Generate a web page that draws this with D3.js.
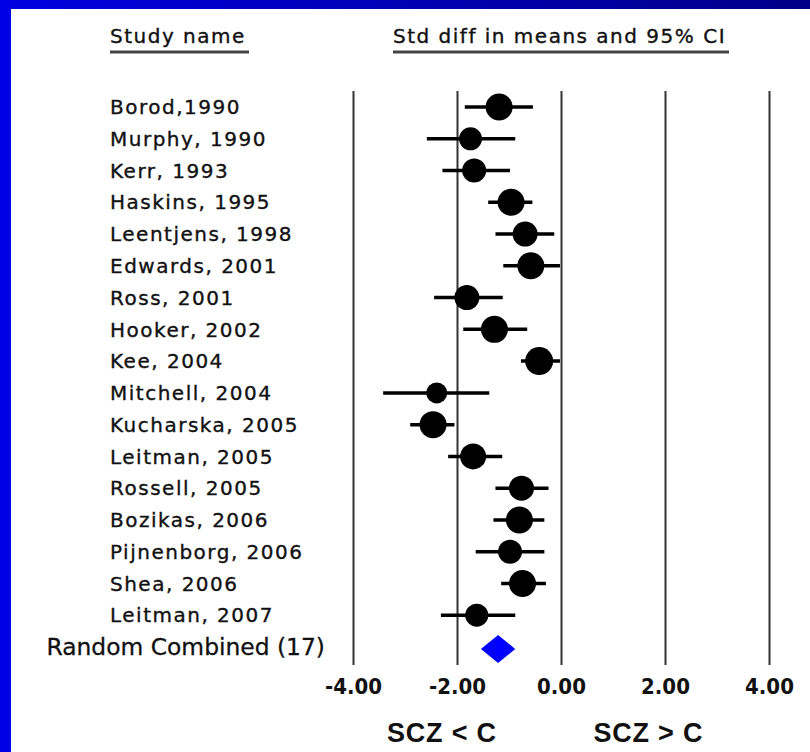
<!DOCTYPE html>
<html>
<meta charset="utf-8">
<head>
<style>
body {
    margin: 0;
    background: #fff;
}
.lbl {
    font-family: "DejaVu Sans", sans-serif;
    font-size: 20px;
    letter-spacing: 1.5px;
    fill: #111;
    stroke: #111;
    stroke-width: 0.35px;
}
.combined {
    font-family: "DejaVu Sans", sans-serif;
    font-size: 23.4px;
    fill: #111;
    stroke: #111;
    stroke-width: 0.3px;
}
.tick text {
    font-family: "DejaVu Sans Condensed", "DejaVu Sans", sans-serif;
    font-stretch: condensed;
    font-weight: bold;
    font-size: 22px;
    fill: #111;
}
.side {
    font-family: "Liberation Sans", Arial, sans-serif;
    font-weight: bold;
    font-size: 27px;
    letter-spacing: 0.8px;
    fill: #111;
}
</style>
<script src="https://d3js.org/d3.v7.min.js"></script>
</head>
<body>
<script type="text/javascript">
var studies = ["Borod,1990", "Murphy, 1990", "Kerr, 1993", "Haskins, 1995", "Leentjens, 1998",
    "Edwards, 2001", "Ross, 2001", "Hooker, 2002", "Kee, 2004", "Mitchell, 2004",
    "Kucharska, 2005", "Leitman, 2005", "Rossell, 2005", "Bozikas, 2006",
    "Pijnenborg, 2006", "Shea, 2006", "Leitman, 2007"];
var effect = [-1.19, -1.74, -1.67, -0.96, -0.69, -0.58, -1.81, -1.28, -0.42, -2.39,
    -2.46, -1.69, -0.76, -0.80, -0.98, -0.74, -1.62];
var lower = [-1.85, -2.58, -2.28, -1.40, -1.26, -1.11, -2.44, -1.88, -0.77, -3.42,
    -2.90, -2.17, -1.26, -1.30, -1.64, -1.15, -2.31];
var upper = [-0.54, -0.88, -0.98, -0.55, -0.13, -0.02, -1.12, -0.65, -0.02, -1.38,
    -2.05, -1.13, -0.24, -0.32, -0.32, -0.29, -0.88];
// relative weight of each study (drives the marker size)
var weight = [13.5, 11.5, 12, 13.5, 12.5, 13.5, 12.5, 13.5, 14, 10.5,
    13.5, 13, 12.5, 13.5, 12, 13.5, 11.5];
var combinedName = "Random Combined (17)";
var combined = {est: -1.21, lo: -1.54, hi: -0.88};
var tickVals = [-4, -2, 0, 2, 4];
var sideLabels = [{text: "SCZ < C", at: -2.29}, {text: "SCZ > C", at: 1.68}];

var W = 810, H = 752;

var svg = d3.select("body").append("svg")
    .attr("width", W)
    .attr("height", H);

// blue frame
var grad = svg.append("defs").append("linearGradient")
    .attr("id", "topband")
    .attr("x1", "0%").attr("x2", "100%");
grad.append("stop").attr("offset", "0%").attr("stop-color", "#0000e0");
grad.append("stop").attr("offset", "100%").attr("stop-color", "#000088");

svg.append("rect").attr("x", 0).attr("y", 0).attr("width", W).attr("height", H).attr("fill", "#fff");
svg.append("rect").attr("x", 0).attr("y", 0).attr("width", W).attr("height", 9).attr("fill", "url(#topband)");
svg.append("rect").attr("x", 0).attr("y", 0).attr("width", 11).attr("height", H).attr("fill", "#0000e6");

var rows = studies.concat([combinedName]);

var x = d3.scaleLinear().domain([-4, 4]).range([353, 769]);
var y = d3.scalePoint().domain(rows).range([107, 647]);

var gridTop = 91, gridBottom = 665;

// vertical reference lines
svg.append("g")
    .attr("transform", "translate(0," + gridBottom + ")")
    .call(d3.axisBottom(x).tickValues(tickVals).tickSize(-(gridBottom - gridTop)).tickFormat(""))
    .call(function(g) {
        g.select(".domain").remove();
        g.selectAll("line").attr("stroke", "#333").attr("stroke-width", 2);
    });

// tick labels
svg.append("g")
    .attr("transform", "translate(0," + gridBottom + ")")
    .call(d3.axisBottom(x).tickValues(tickVals).tickSize(0).tickPadding(13)
        .tickFormat(function(d) { return d.toFixed(2); }))
    .call(function(g) { g.select(".domain").remove(); });

// headers
var headers = [
    {text: "Study name", x: 110, x2: 249},
    {text: "Std diff in means and 95% CI", x: 393, x2: 729}
];
headers.forEach(function(h) {
    svg.append("text").attr("class", "lbl")
        .attr("x", h.x).attr("y", 43)
        .text(h.text);
    svg.append("line")
        .attr("x1", h.x).attr("x2", h.x2)
        .attr("y1", 52).attr("y2", 52)
        .attr("stroke", "#444").attr("stroke-width", 3);
});

// study labels
svg.selectAll(".study")
    .data(studies)
  .enter().append("text")
    .attr("class", "lbl study")
    .attr("x", 110)
    .attr("y", function(d) { return y(d); })
    .attr("dy", "0.36em")
    .text(function(d) { return d; });

svg.append("text")
    .attr("class", "combined")
    .attr("x", 325)
    .attr("y", y(combinedName))
    .attr("dy", "0.36em")
    .attr("text-anchor", "end")
    .text(combinedName);

// confidence intervals
svg.selectAll(".ci")
    .data(studies)
  .enter().append("line")
    .attr("class", "ci")
    .attr("x1", function(d, i) { return x(lower[i]); })
    .attr("x2", function(d, i) { return x(upper[i]); })
    .attr("y1", function(d) { return y(d); })
    .attr("y2", function(d) { return y(d); })
    .attr("stroke", "#000")
    .attr("stroke-width", 3.5);

// point estimates
svg.selectAll(".pt")
    .data(studies)
  .enter().append("circle")
    .attr("class", "pt")
    .attr("cx", function(d, i) { return x(effect[i]); })
    .attr("cy", function(d) { return y(d); })
    .attr("r", function(d, i) { return weight[i]; })
    .attr("fill", "#000");

// combined diamond
var cy = y(combinedName) + 2;
svg.append("path")
    .attr("d", "M" + x(combined.lo) + "," + cy +
        "L" + x(combined.est) + "," + (cy - 14) +
        "L" + x(combined.hi) + "," + cy +
        "L" + x(combined.est) + "," + (cy + 14) + "Z")
    .attr("fill", "#0000ff");

// direction labels
svg.selectAll(".side")
    .data(sideLabels)
  .enter().append("text")
    .attr("class", "side")
    .attr("x", function(d) { return x(d.at); })
    .attr("y", 742)
    .attr("text-anchor", "middle")
    .text(function(d) { return d.text; });
</script>
</body>
</html>
